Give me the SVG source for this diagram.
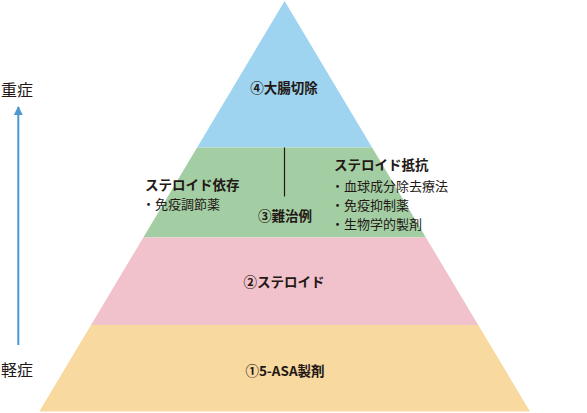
<svg xmlns="http://www.w3.org/2000/svg" width="587" height="413" viewBox="0 0 587 413">
<style>
  .t { font-family: "Noto Sans CJK JP", "Noto Sans", sans-serif; fill: #231815; }
  .b { font-weight: bold; font-size: 13.5px; }
  .n { font-size: 13px; }
  .side { font-size: 16px; }
</style>
<defs>
  <marker id="ah" viewBox="0 0 10 10" refX="9" refY="5" markerWidth="9" markerHeight="9" markerUnits="userSpaceOnUse" orient="auto">
    <path d="M0,0 L10,5 L0,10 Z" fill="#4b97cf"/>
  </marker>
</defs>
<rect width="587" height="413" fill="#ffffff"/>
<g id="level4">
  <polygon points="284.6,1 372.1,147.5 197.1,147.5" fill="#9ed4ef"/>
  <text class="t b" x="284" y="93" text-anchor="middle">④大腸切除</text>
</g>
<g id="level3">
  <polygon points="197.1,147.5 372.1,147.5 425.9,237.5 143.3,237.5" fill="#a3cea4"/>
  <text class="t b" x="285" y="221" text-anchor="middle">③難治例</text>
  <text class="t b" x="145" y="190">ステロイド依存</text>
  <text class="t n" x="142" y="209">・免疫調節薬</text>
  <text class="t b" x="334" y="170">ステロイド抵抗</text>
  <text class="t n" x="331" y="191">・血球成分除去療法</text>
  <text class="t n" x="331" y="210">・免疫抑制薬</text>
  <text class="t n" x="331" y="229">・生物学的製剤</text>
</g>
<g id="level2">
  <polygon points="143.3,237.5 425.9,237.5 478.2,325 91,325" fill="#f1c2cb"/>
  <text class="t b" x="284" y="287" text-anchor="middle">②ステロイド</text>
</g>
<g id="level1">
  <polygon points="91,325 478.2,325 530,411.5 39.3,411.5" fill="#f8d9a0"/>
  <text class="t b" x="285" y="376" text-anchor="middle">①5-ASA製剤</text>
</g>
<g id="connectors">
  <line x1="284.5" y1="147.5" x2="284.5" y2="196.5" stroke="#231815" stroke-width="1.2"/>
  <line x1="18.3" y1="345" x2="18.3" y2="107" stroke="#4b97cf" stroke-width="2" marker-end="url(#ah)"/>
</g>
<g id="severity">
  <text class="t side" x="1" y="96">重症</text>
  <text class="t side" x="1" y="376">軽症</text>
</g>
</svg>
